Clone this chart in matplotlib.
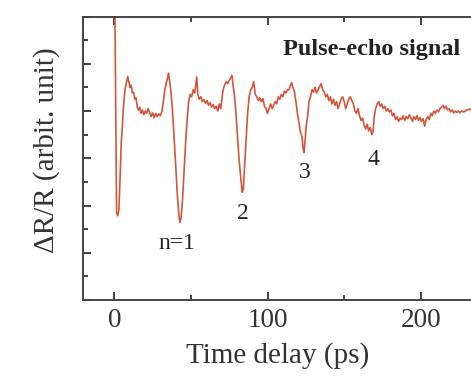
import matplotlib
matplotlib.use("Agg")
import matplotlib.pyplot as plt
from matplotlib.ticker import MultipleLocator

plt.rcParams['font.family'] = ['Liberation Serif', 'DejaVu Serif']

# time delay (ps) and reflectivity change (arb. units)
t = [0.3, 1.5, 2.2, 3.0, 3.8, 4.5, 5.3, 6.0, 7.0, 8.0, 8.8, 9.5, 10.2, 11.0, 11.8,
     12.6, 13.4, 14.2, 15.0, 15.8, 16.6, 17.5, 18.4, 19.3, 20.2, 21.1, 22.0, 23.0,
     24.0, 25.0, 26.0, 27.0, 28.0, 29.0, 30.0, 31.0, 32.0, 33.0, 34.0, 34.8, 35.4,
     36.2, 37.0, 38.0, 39.0, 40.0, 41.0, 42.0, 42.8, 43.6, 44.5, 45.5, 46.5, 47.5,
     48.5, 49.5, 50.5, 51.5, 52.5, 53.3, 53.8, 54.5, 55.5, 56.5, 57.5, 58.5, 59.5,
     60.5, 61.5, 62.5, 63.5, 64.5, 65.5, 66.5, 67.5, 68.5, 69.5, 70.2, 71.0, 72.0,
     73.0, 74.0, 75.0, 76.0, 76.8, 77.5, 78.5, 79.5, 80.5, 81.5, 82.5, 83.5, 84.2,
     85.0, 86.0, 87.0, 88.0, 89.0, 90.0, 91.0, 92.0, 93.0, 94.0, 95.0, 96.0, 97.0,
     98.0, 99.0, 100.0, 101.0, 102.0, 103.0, 104.0, 105.0, 106.0, 107.0, 108.0,
     109.0, 110.0, 111.0, 112.0, 113.0, 114.0, 115.0, 115.8, 116.5, 117.5, 118.5,
     119.5, 120.5, 121.5, 122.5, 123.2, 123.8, 124.5, 125.3, 126.2, 127.0, 128.0,
     129.0, 130.0, 131.0, 132.0, 133.0, 134.0, 135.0, 136.0, 137.0, 138.0, 139.0,
     140.0, 141.0, 142.0, 143.0, 144.0, 145.0, 146.0, 147.0, 148.0, 149.0, 150.0,
     151.0, 152.0, 153.0, 154.0, 155.0, 156.0, 157.0, 158.0, 159.0, 160.0, 161.0,
     162.0, 163.0, 164.0, 165.0, 166.0, 167.0, 168.0, 168.8, 169.5, 170.5, 171.5,
     172.5, 173.5, 174.5, 175.5, 176.5, 177.5, 178.5, 179.5, 180.5, 181.5, 182.5,
     183.5, 184.5, 185.5, 186.5, 187.5, 188.5, 189.5, 190.5, 191.5, 192.5, 193.5,
     194.5, 195.5, 196.5, 197.5, 198.5, 199.5, 200.5, 201.5, 202.5, 203.5, 204.5,
     205.5, 206.5, 207.5, 208.5, 209.5, 210.5, 211.5, 212.5, 213.5, 214.5, 215.5,
     216.5, 217.5, 218.5, 219.5, 220.5, 221.5, 222.5, 223.5, 224.5, 225.5, 226.5,
     228.0, 230.0, 232.0, 234.0, 240.0]
dr = [6.6, 1.85, 1.78, 1.9, 2.6, 3.3, 3.7, 4.1, 4.45, 4.62, 4.73, 4.62, 4.5, 4.55, 4.38,
      4.4, 4.25, 4.28, 4.08, 4.02, 4.08, 3.95, 4.02, 3.92, 4.0, 3.95, 4.05, 3.98,
      3.88, 3.96, 3.86, 3.95, 3.88, 3.94, 3.9, 3.98, 4.2, 4.45, 4.6, 4.7, 4.8,
      4.62, 4.4, 4.0, 3.45, 2.9, 2.3, 1.85, 1.64, 1.75, 2.1, 2.7, 3.3, 3.8,
      4.2, 4.35, 4.3, 4.45, 4.38, 4.6, 4.72, 4.35, 4.25, 4.3, 4.2, 4.24, 4.16,
      4.22, 4.12, 4.18, 4.08, 4.14, 4.05, 4.1, 4.0, 4.15, 4.05, 4.25, 4.45, 4.55,
      4.62, 4.58, 4.65, 4.7, 4.75, 4.55, 4.3, 3.9, 3.4, 2.95, 2.6, 2.28, 2.35,
      2.8, 3.4, 3.95, 4.3, 4.45, 4.5, 4.62, 4.35, 4.3, 4.22, 4.28, 4.2, 4.26,
      4.1, 4.05, 3.95, 4.05, 4.15, 4.05, 4.12, 4.2, 4.15, 4.3, 4.25,
      4.35, 4.3, 4.42, 4.38, 4.45, 4.45, 4.55, 4.6, 4.5, 4.42, 4.2,
      3.95, 3.75, 3.55, 3.45, 3.2, 3.12, 3.4, 3.7, 3.9, 4.2, 4.3,
      4.45, 4.4, 4.5, 4.38, 4.45, 4.52, 4.58, 4.45, 4.4, 4.3, 4.35,
      4.22, 4.3, 4.15, 4.25, 4.12, 4.2, 4.05, 4.15, 4.25, 4.3, 4.2,
      4.05, 4.15, 4.25, 4.3, 4.22, 4.15, 4.0, 3.95, 4.05, 3.9, 3.8,
      3.85, 3.7, 3.62, 3.72, 3.58, 3.65, 3.5, 3.55, 3.85, 4.05, 4.15,
      4.2, 4.1, 4.15, 4.05, 4.1, 4.0, 4.05, 3.98, 4.02, 3.9, 3.95,
      3.82, 3.88, 3.78, 3.85, 3.82, 3.9, 3.8, 3.88, 3.84, 3.92, 3.86,
      3.78, 3.88, 3.82, 3.9, 3.8, 3.86, 3.78, 3.84, 3.68, 3.82, 3.88,
      3.82, 3.95, 3.9, 4.0, 3.95, 4.02, 3.98, 4.05, 4.08, 4.12, 4.05,
      4.1, 4.02, 4.05, 3.98, 4.02, 3.96, 4.0, 3.97, 4.0, 3.96, 4.0,
      3.98, 4.02, 4.04, 4.0, 4.02]

echo_labels = ['n=1', '2', '3', '4']
echo_t = [40.7, 84.1, 124.3, 169.3]
echo_y = [1.2, 1.84, 2.69, 2.97]

fig = plt.figure(figsize=(4.71, 3.76), dpi=100)
ax = fig.add_axes([0.1756, 0.2021, 0.848, 0.754])

ax.plot(t, dr, color='#d4563a', lw=1.2)

ax.set_xlim(-20.6, 240)
ax.set_ylim(0, 6)
ax.xaxis.set_major_locator(MultipleLocator(100))
ax.xaxis.set_minor_locator(MultipleLocator(50))
ax.yaxis.set_major_locator(MultipleLocator(1))
ax.yaxis.set_minor_locator(MultipleLocator(0.5))
ax.tick_params(which='both', direction='in', top=True, right=True,
               colors='#333333', width=1.3)
ax.tick_params(which='major', length=6, labelsize=19.5, pad=6)
ax.tick_params(which='minor', length=3.5)
ax.set_yticklabels([])
for s in ax.spines.values():
    s.set_color('#444444')
    s.set_linewidth(1.4)

ax.set_xlabel('Time delay (ps)', fontsize=21, color='#333333')
ax.set_ylabel('ΔR/R (arbit. unit)', fontsize=21, color='#333333')
ax.xaxis.set_label_coords(0.487, -0.15)
ax.yaxis.set_label_coords(-0.057, 0.53)

for lab, x, y in zip(echo_labels, echo_t, echo_y):
    ax.text(x, y, lab, fontsize=17, ha='center', va='center', color='#222222')

ax.text(110, 5.3, 'Pulse-echo signal', fontsize=17.5, fontweight='bold',
        ha='left', va='center', color='#222222')

fig.savefig('out.png', dpi=100)
